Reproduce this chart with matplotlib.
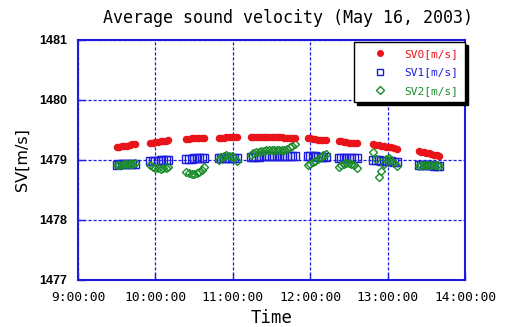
import matplotlib
matplotlib.use("Agg")
import matplotlib.pyplot as plt
from matplotlib.lines import Line2D
import numpy as np

# Averaged sound velocity, logged in bursts every 2 minutes.
# Each burst: start time (HH:MM) and the recorded values.
burst_start = ["9:30", "9:56", "10:24", "10:49", "11:14",
               "11:58", "12:22", "12:49", "13:24"]
sample_step_min = 2

sv0 = [
    [1479.21, 1479.22, 1479.23, 1479.24, 1479.24, 1479.25, 1479.26, 1479.27],
    [1479.28, 1479.29, 1479.30, 1479.30, 1479.31, 1479.32, 1479.32, 1479.33],
    [1479.35, 1479.35, 1479.36, 1479.36, 1479.36, 1479.36, 1479.36, 1479.37],
    [1479.37, 1479.37, 1479.37, 1479.38, 1479.38, 1479.38, 1479.38, 1479.38],
    [1479.39, 1479.39, 1479.39, 1479.39, 1479.39, 1479.39, 1479.38, 1479.38, 1479.38,
     1479.38, 1479.38, 1479.38, 1479.38, 1479.37, 1479.37, 1479.37, 1479.37, 1479.37],
    [1479.36, 1479.36, 1479.35, 1479.35, 1479.34, 1479.34, 1479.34, 1479.33],
    [1479.31, 1479.31, 1479.30, 1479.30, 1479.29, 1479.29, 1479.28, 1479.28],
    [1479.26, 1479.25, 1479.25, 1479.24, 1479.23, 1479.22, 1479.22, 1479.21, 1479.20, 1479.19],
    [1479.15, 1479.14, 1479.13, 1479.12, 1479.11, 1479.10, 1479.09, 1479.08, 1479.07],
]

sv1 = [
    [1478.92, 1478.93, 1478.93, 1478.93, 1478.94, 1478.94, 1478.94, 1478.94],
    [1478.98, 1478.99, 1478.99, 1478.99, 1479.00, 1479.00, 1479.00, 1479.00],
    [1479.02, 1479.02, 1479.02, 1479.03, 1479.03, 1479.03, 1479.03, 1479.03],
    [1479.04, 1479.04, 1479.04, 1479.04, 1479.04, 1479.04, 1479.04, 1479.04],
    [1479.05, 1479.05, 1479.05, 1479.05, 1479.06, 1479.06, 1479.06, 1479.06, 1479.06,
     1479.06, 1479.06, 1479.06, 1479.06, 1479.06, 1479.06, 1479.06, 1479.06, 1479.06],
    [1479.06, 1479.06, 1479.06, 1479.06, 1479.05, 1479.05, 1479.05, 1479.05],
    [1479.04, 1479.04, 1479.04, 1479.04, 1479.03, 1479.03, 1479.03, 1479.03],
    [1479.00, 1479.00, 1479.00, 1478.99, 1478.99, 1478.98, 1478.98, 1478.98, 1478.97, 1478.97],
    [1478.92, 1478.92, 1478.92, 1478.91, 1478.91, 1478.91, 1478.90, 1478.90, 1478.90],
]

sv2 = [
    [1478.91, 1478.92, 1478.92, 1478.93, 1478.93, 1478.94, 1478.94, 1478.95],
    [1478.92, 1478.89, 1478.87, 1478.86, 1478.85, 1478.86, 1478.87, 1478.88],
    [1478.80, 1478.78, 1478.77, 1478.77, 1478.78, 1478.80, 1478.84, 1478.88],
    [1479.00, 1479.05, 1479.07, 1479.08, 1479.07, 1479.06, 1479.03, 1478.99],
    [1479.09, 1479.11, 1479.13, 1479.14, 1479.15, 1479.15, 1479.16, 1479.16, 1479.16,
     1479.16, 1479.16, 1479.16, 1479.17, 1479.17, 1479.18, 1479.21, 1479.24, 1479.27],
    [1478.92, 1478.94, 1478.97, 1478.99, 1479.02, 1479.05, 1479.08, 1479.10],
    [1478.88, 1478.91, 1478.93, 1478.95, 1478.95, 1478.94, 1478.91, 1478.87],
    [1479.14, 1479.02, 1478.71, 1478.82, 1478.94, 1479.02, 1479.03, 1479.00, 1478.95, 1478.90],
    [1478.90, 1478.91, 1478.91, 1478.92, 1478.92, 1478.91, 1478.91, 1478.91, 1478.90],
]

x_ticks = [9, 10, 11, 12, 13, 14]
x_tick_labels = ["9:00:00", "10:00:00", "11:00:00", "12:00:00", "13:00:00", "14:00:00"]
y_ticks = [1477, 1478, 1479, 1480, 1481]


def burst_times(start, n):
    h, m = start.split(":")
    t0 = int(h) + int(m) / 60.0
    return [t0 + k * sample_step_min / 60.0 for k in range(n)]


def flatten(series):
    xs, ys = [], []
    for start, vals in zip(burst_start, series):
        xs.extend(burst_times(start, len(vals)))
        ys.extend(vals)
    return np.array(xs), np.array(ys)


RED = "#e8141a"
BLUE = "#1c1ce0"
GREEN = "#1a8c2a"
MONO = "DejaVu Sans Mono"

fig = plt.figure(figsize=(5.09, 3.27), dpi=100)
ax = fig.add_axes([78 / 509, 1 - 280 / 327, 387 / 509, 240 / 327])

x1, y1 = flatten(sv1)
x2, y2 = flatten(sv2)
x0, y0 = flatten(sv0)
ax.plot(x1, y1, ls="none", marker="s", ms=5.6, mfc="none", mec=BLUE, mew=1.0, zorder=3)
ax.plot(x2, y2, ls="none", marker="D", ms=4.0, mfc="none", mec=GREEN, mew=1.0, zorder=4)
ax.plot(x0, y0, ls="none", marker="o", ms=5.4, mfc=RED, mec=RED, mew=0, zorder=5)

ax.set_xlim(9, 14)
ax.set_ylim(1477, 1481)
ax.set_xticks(x_ticks)
ax.set_xticklabels(x_tick_labels, fontfamily=MONO, fontsize=9.3)
ax.set_yticks(y_ticks)
ax.set_yticklabels([str(v) for v in y_ticks], fontfamily="Liberation Sans",
                   fontweight="bold", fontsize=9)

ax.grid(True, color=BLUE, linestyle=(0, (2.5, 1.5)), linewidth=0.9)
ax.tick_params(direction="in", length=5, width=1, color=BLUE)
ax.tick_params(axis="x", pad=8)
ax.tick_params(axis="y", pad=8)
for sp in ax.spines.values():
    sp.set_color(BLUE)
    sp.set_linewidth(1.5)

ax.set_xlabel("Time", fontfamily=MONO, fontsize=12.5)
ax.xaxis.set_label_coords(0.5, -0.12)
ax.set_ylabel("SV[m/s]", fontfamily="DejaVu Sans", fontsize=11.5)
ax.yaxis.set_label_coords(-0.125, 0.5)
fig.text(0.565, 0.945, "Average sound velocity (May 16, 2003)",
         fontfamily=MONO, fontsize=12, ha="center", va="center")

handles = [
    Line2D([], [], ls="none", marker="o", ms=4, mfc=RED, mec=RED),
    Line2D([], [], ls="none", marker="s", ms=5, mfc="none", mec=BLUE, mew=1.0),
    Line2D([], [], ls="none", marker="D", ms=3.6, mfc="none", mec=GREEN, mew=1.0),
]
leg = ax.legend(handles, ["SV0[m/s]", "SV1[m/s]", "SV2[m/s]"], loc="upper right",
                bbox_to_anchor=(1.0, 0.99), prop={"family": MONO, "size": 8},
                frameon=True, fancybox=False, shadow={"color": "black", "alpha": 1},
                edgecolor="black", framealpha=1, borderpad=0.6, labelspacing=0.75,
                handlelength=3.6, handletextpad=0.35, borderaxespad=0)
leg.get_frame().set_linewidth(1.0)
for txt, col in zip(leg.get_texts(), [RED, BLUE, GREEN]):
    txt.set_color(col)
leg.set_zorder(10)

fig.savefig("out.png", dpi=100)
